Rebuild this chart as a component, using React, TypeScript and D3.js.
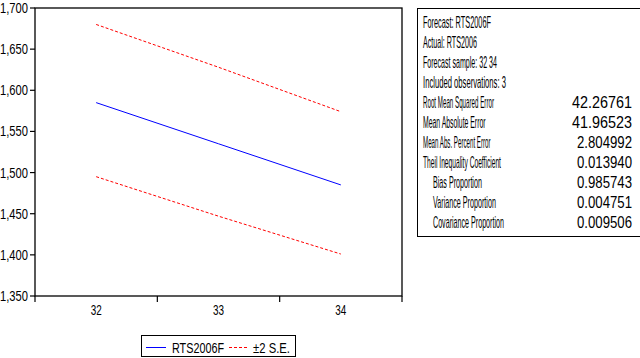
import React from "react";
import * as d3 from "d3";

const categories = ["32", "33", "34"];
const forecast = [1585, 1535, 1485];
const upperBand = [1680, 1628, 1574];
const lowerBand = [1495, 1447, 1401];
const yTicks = [1350, 1400, 1450, 1500, 1550, 1600, 1650, 1700];
const yTickLabels = ["1,350", "1,400", "1,450", "1,500", "1,550", "1,600", "1,650", "1,700"];

const statLabels = [
  "Forecast: RTS2006F",
  "Actual: RTS2006",
  "Forecast sample: 32 34",
  "Included observations: 3",
  "Root Mean Squared Error",
  "Mean Absolute Error",
  "Mean Abs. Percent Error",
  "Theil Inequality Coefficient",
  "Bias Proportion",
  "Variance Proportion",
  "Covariance Proportion",
];
const statValues = ["", "", "", "", "42.26761", "41.96523", "2.804992", "0.013940", "0.985743", "0.004751", "0.009506"];
const statIndent = [false, false, false, false, false, false, false, false, true, true, true];

// layout (pixel widths of the condensed text)
const labelWidths = [68, 54, 74, 83, 71, 63, 68, 78, 49, 63, 71];
const valueWidths = [0, 0, 0, 0, 60, 60, 55, 55, 55, 55, 55];

const W = 640;
const H = 358;
const plot = { left: 35, right: 402, top: 8, bottom: 296 };
const FONT_NAME = "Liberation Sans";
const FONT = "'Liberation Sans', Arial, sans-serif";

let ctx: CanvasRenderingContext2D | null = null;
function measure(text: string, size: number): number {
  if (!ctx) {
    const c = document.createElement("canvas");
    ctx = c.getContext("2d");
  }
  if (!ctx) return text.length * size * 0.55;
  ctx.font = `${size}px '${FONT_NAME}'`;
  return ctx.measureText(text).width;
}

type FitProps = {
  x: number;
  y: number;
  width: number;
  size: number;
  anchor?: "start" | "middle" | "end";
  children: string;
};

function FitText({ x, y, width, size, anchor = "start", children }: FitProps) {
  const natural = measure(children, size);
  const sx = natural > 0 ? width / natural : 1;
  return (
    <text
      transform={`translate(${x},${y}) scale(${sx},1)`}
      textAnchor={anchor}
      fontFamily={FONT}
      fontSize={size}
      fill="#000"
    >
      {children}
    </text>
  );
}

export default function App() {
  const x = d3.scaleBand<string>().domain(categories).range([plot.left, plot.right]).padding(0);
  const y = d3.scaleLinear().domain([1350, 1700]).range([plot.bottom, plot.top]);
  const cx = (c: string) => (x(c) as number) + x.bandwidth() / 2;

  const line = d3
    .line<number>()
    .x((_, i) => cx(categories[i]))
    .y((d) => y(d));

  const boundaries = [...categories.map((c) => x(c) as number), plot.right];

  return (
    <div style={{ position: "absolute", left: 0, top: 0 }}>
      <svg width={W} height={H} style={{ display: "block", background: "#fff" }}>
        <rect x={0} y={0} width={W} height={H} fill="#fff" />
        {/* plot frame */}
        <rect
          x={plot.left}
          y={plot.top}
          width={plot.right - plot.left}
          height={plot.bottom - plot.top}
          fill="none"
          stroke="#000"
          strokeWidth={1.3}
        />
        {/* y ticks */}
        {yTicks.map((t, i) => (
          <g key={t}>
            <line x1={plot.left - 5} x2={plot.left} y1={y(t)} y2={y(t)} stroke="#000" strokeWidth={1.2} />
            <FitText x={28} y={y(t) + 5} width={28} size={14} anchor="end">
              {yTickLabels[i]}
            </FitText>
          </g>
        ))}
        {/* x ticks at band boundaries */}
        {boundaries.map((b, i) => (
          <line key={i} x1={b} x2={b} y1={plot.bottom} y2={plot.bottom + 6} stroke="#000" strokeWidth={1.2} />
        ))}
        {categories.map((c) => (
          <FitText key={c} x={cx(c)} y={315} width={11} size={14} anchor="middle">
            {c}
          </FitText>
        ))}
        {/* series */}
        <path d={line(upperBand) || ""} fill="none" stroke="#ff0000" strokeWidth={1} strokeDasharray="3,2" />
        <path d={line(lowerBand) || ""} fill="none" stroke="#ff0000" strokeWidth={1} strokeDasharray="3,2" />
        <path d={line(forecast) || ""} fill="none" stroke="#0000ff" strokeWidth={1} />

        {/* legend */}
        <rect x={141.5} y={335.5} width={154} height={21} fill="#fff" stroke="#000" strokeWidth={1} />
        <line x1={146} x2={166} y1={347.5} y2={347.5} stroke="#0000ff" strokeWidth={1} />
        <FitText x={172} y={353} width={52} size={14}>
          RTS2006F
        </FitText>
        <line x1={229} x2={249} y1={347.5} y2={347.5} stroke="#ff0000" strokeWidth={1} strokeDasharray="3,2" />
        <FitText x={253} y={353} width={37} size={14}>
          ±2 S.E.
        </FitText>

        {/* stats box */}
        <rect x={417.5} y={8.5} width={240} height={228} fill="#fff" stroke="#000" strokeWidth={1} />
        {statLabels.map((s, i) => {
          const cy = 21.7 + 20 * i;
          return (
            <g key={s}>
              <FitText x={statIndent[i] ? 433 : 423} y={cy + 6} width={labelWidths[i]} size={16}>
                {s}
              </FitText>
              {statValues[i] && (
                <FitText x={632 - valueWidths[i]} y={cy + 6} width={valueWidths[i]} size={16}>
                  {statValues[i]}
                </FitText>
              )}
            </g>
          );
        })}
      </svg>
    </div>
  );
}
